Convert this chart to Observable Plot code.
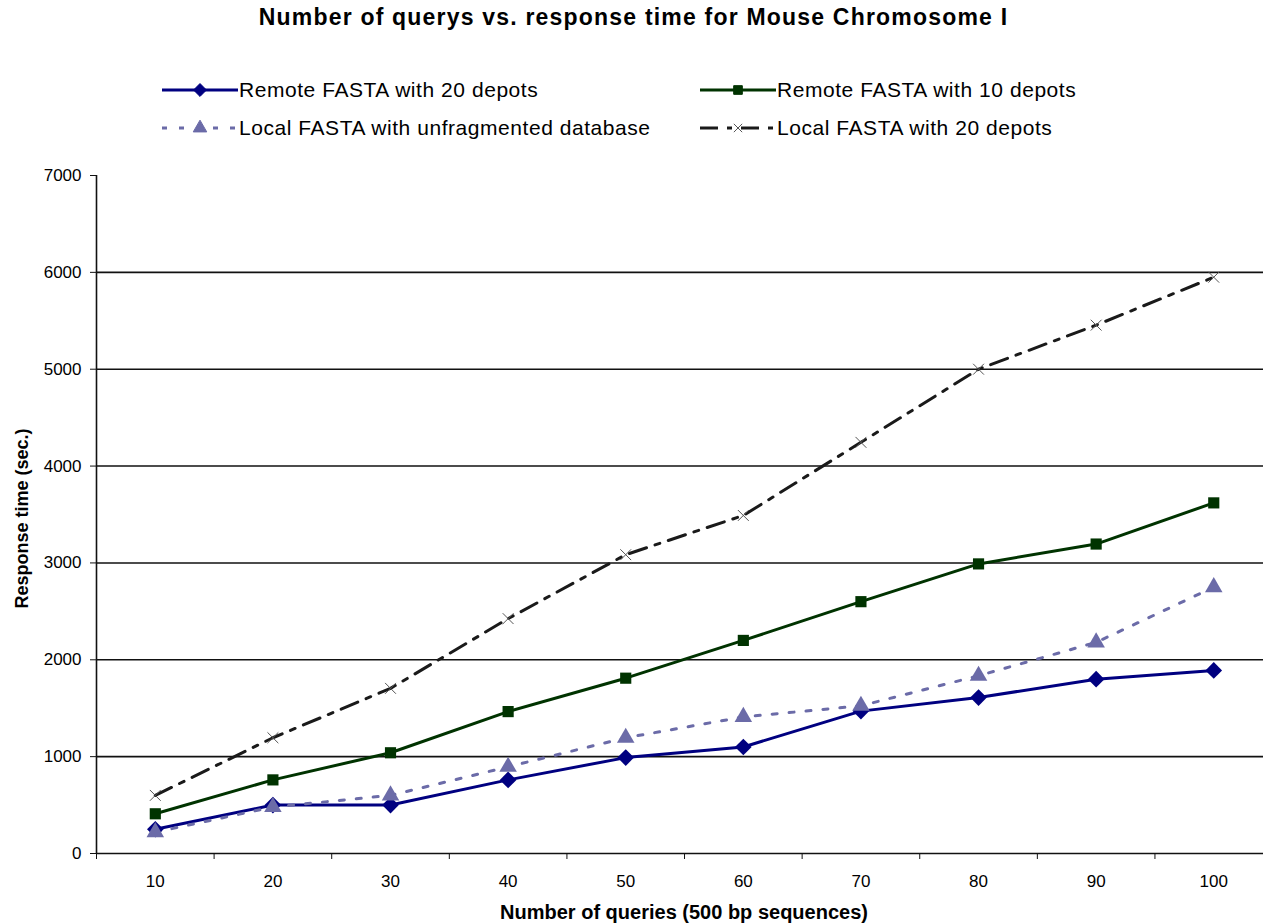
<!DOCTYPE html>
<html>
<head>
<meta charset="utf-8">
<script src="https://cdn.jsdelivr.net/npm/d3@7"></script>
<script src="https://cdn.jsdelivr.net/npm/@observablehq/plot@0.6"></script>
<style>
  body { margin: 0; background: #fff; font-family: "Liberation Sans", Arial, sans-serif; }
  #head { position: relative; width: 1263px; height: 160px; }
  #title { position: absolute; top: 4px; left: 2px; width: 1263px; text-align: center; font-weight: bold; font-size: 23px; letter-spacing: 1.2px; color: #000; }
  .entry { position: absolute; height: 26px; display: flex; align-items: center; font-size: 21px; letter-spacing: 0.55px; color: #000; white-space: nowrap; }
  .entry svg { display: block; }
</style>
</head>
<body>
<div id="head">
  <div id="title">Number of querys vs. response time for Mouse Chromosome I</div>
</div>
<div id="chart"></div>
<script>
// ---- data ----
const queries = [10, 20, 30, 40, 50, 60, 70, 80, 90, 100];
const remote20 = [250, 500, 500, 760, 990, 1100, 1470, 1610, 1800, 1890];
const remote10 = [410, 760, 1040, 1465, 1810, 2200, 2600, 2990, 3195, 3620];
const localUnfrag = [220, 480, 600, 895, 1195, 1410, 1525, 1835, 2180, 2750];
const local20 = [600, 1195, 1705, 2425, 3085, 3490, 4245, 5000, 5455, 5950];
const seriesNames = [
  "Remote FASTA with 20 depots",
  "Remote FASTA with 10 depots",
  "Local FASTA with unfragmented database",
  "Local FASTA with 20 depots"
];
const yTicks = [0, 1000, 2000, 3000, 4000, 5000, 6000, 7000];
const xBoundaries = [5, 15, 25, 35, 45, 55, 65, 75, 85, 95];

// ---- styling ----
const styles = [
  {values: remote20, stroke: "#000080", fill: "#000080", symbol: "diamond2", r: 7.5, dash: null, sw: 3, mstroke: "#000080", msw: 0},
  {values: remote10, stroke: "#003300", fill: "#003300", symbol: "square", r: 6.3, dash: null, sw: 3, mstroke: "#003300", msw: 0},
  {values: localUnfrag, stroke: "#6B6BA8", fill: "#6B6BA8", symbol: "triangle", r: 6.5, dash: "5,12", sw: 3, mstroke: "#6B6BA8", msw: 0},
  {values: local20, stroke: "#1a1a1a", fill: "none", symbol: "times", r: 5, dash: "18,9,5,9", sw: 3, mstroke: "#555", msw: 1}
];

const series = styles.map((s, i) => ({
  ...s,
  name: seriesNames[i],
  data: queries.map((q, j) => ({q, t: s.values[j]}))
}));

// ---- legend ----
const head = document.getElementById("head");
const legendPos = [
  {left: 162, top: 77}, {left: 700, top: 77},
  {left: 162, top: 115}, {left: 700, top: 115}
];
const symMap = {diamond2: d3.symbolDiamond2, square: d3.symbolSquare, triangle: d3.symbolTriangle, times: d3.symbolTimes};
series.forEach((s, i) => {
  const div = document.createElement("div");
  div.className = "entry";
  div.style.left = legendPos[i].left + "px";
  div.style.top = legendPos[i].top + "px";
  const svg = d3.create("svg").attr("width", 76).attr("height", 26);
  svg.append("line").attr("x1", 0).attr("x2", 76).attr("y1", 13).attr("y2", 13)
    .attr("stroke", s.stroke).attr("stroke-width", s.sw)
    .attr("stroke-dasharray", s.dash);
  svg.append("path").attr("transform", "translate(38,13)")
    .attr("d", d3.symbol(symMap[s.symbol], Math.PI * s.r * s.r * 0.6)())
    .attr("fill", s.fill).attr("stroke", s.mstroke).attr("stroke-width", s.msw || null);
  div.appendChild(svg.node());
  const span = document.createElement("span");
  span.textContent = s.name;
  span.style.marginLeft = "1px";
  div.appendChild(span);
  head.appendChild(div);
});

// ---- chart ----
const marks = [
  Plot.ruleY(yTicks.filter(d => d > 0 && d < 7000), {stroke: "#111", strokeWidth: 1.6}),
  Plot.ruleY([0], {stroke: "#111", strokeWidth: 1.6}),
  Plot.ruleX([5], {y1: 0, y2: 7000, stroke: "#111", strokeWidth: 1.6}),
  Plot.axisY(yTicks, {tickSize: 6, tickPadding: 9, fontSize: 17, stroke: "#111", label: null, tickFormat: d => String(d)}),
  Plot.axisX(xBoundaries, {tickSize: 6, tickFormat: () => "", stroke: "#111", label: null}),
  Plot.axisX(queries, {tickSize: 0, tickPadding: 21, fontSize: 17, label: null, tickFormat: d => String(d)}),
  Plot.text(["Number of queries (500 bp sequences)"], {frameAnchor: "bottom", dx: 4, dy: 65, fontSize: 20, fontWeight: "bold"}),
  Plot.text(["Response time (sec.)"], {frameAnchor: "left", textAnchor: "middle", dx: -74, dy: 4, rotate: -90, fontSize: 18, fontWeight: "bold"})
];
series.forEach(s => {
  marks.push(Plot.line(s.data, {x: "q", y: "t", stroke: s.stroke, strokeWidth: s.sw, strokeDasharray: s.dash || undefined}));
});
series.forEach(s => {
  marks.push(Plot.dot(s.data, {x: "q", y: "t", symbol: s.symbol, r: s.r, fill: s.fill, stroke: s.mstroke, strokeWidth: s.msw}));
});

const chart = Plot.plot({
  width: 1263,
  height: 764,
  marginLeft: 96,
  marginRight: 0,
  marginTop: 15,
  marginBottom: 71,
  style: {fontFamily: "'Liberation Sans', Arial, sans-serif", color: "#000", background: "#fff", overflow: "visible"},
  x: {type: "linear", domain: [5, 104.23]},
  y: {domain: [0, 7000]},
  marks
});
document.getElementById("chart").appendChild(chart);
</script>
</body>
</html>
